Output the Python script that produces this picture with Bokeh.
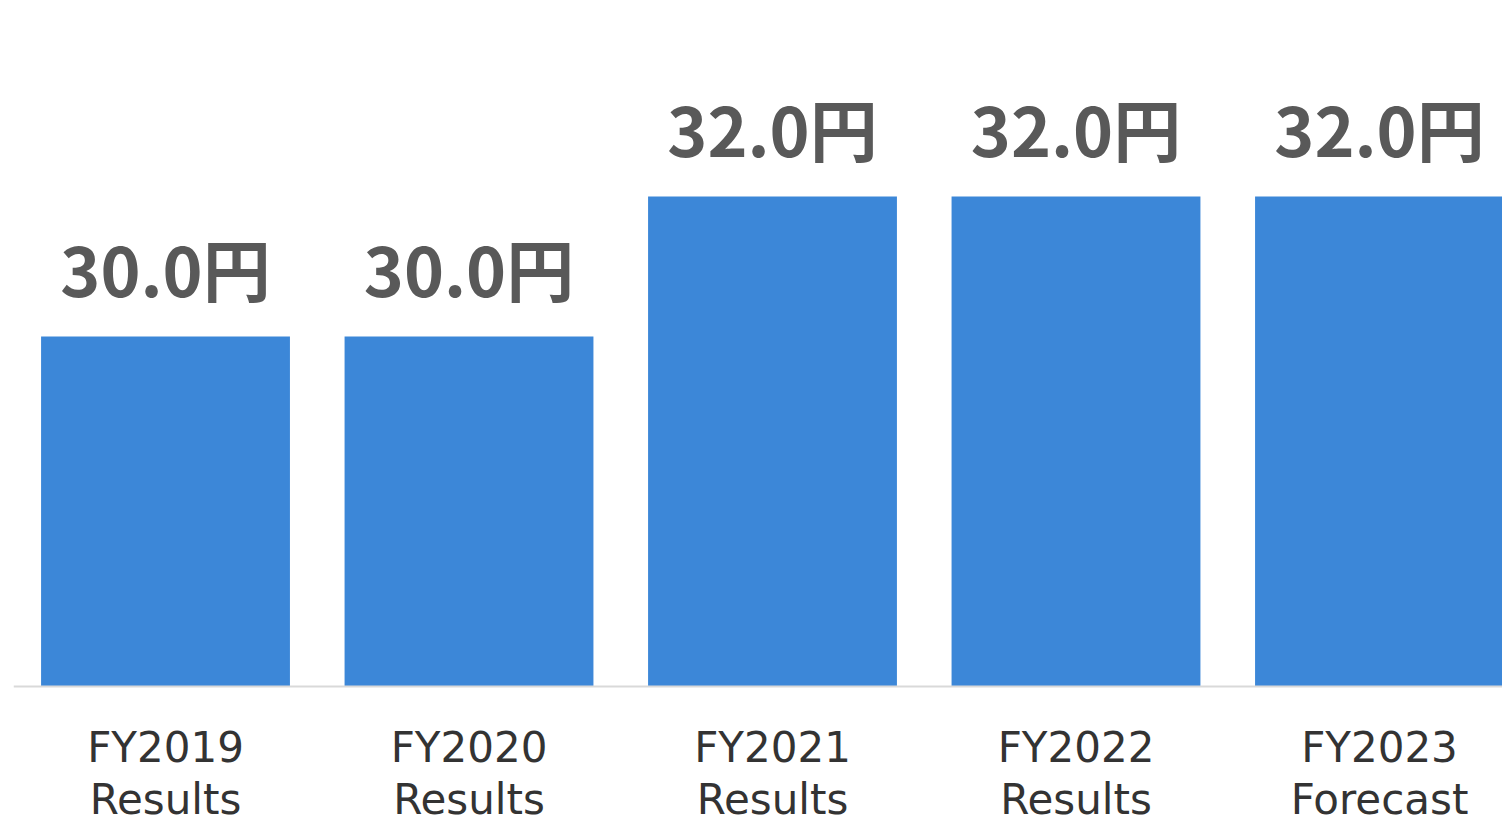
from bokeh.plotting import figure
from bokeh.models import Range1d, ColumnDataSource
from bokeh.core.properties import value
from bokeh.embed import file_html
from bokeh.resources import INLINE

categories = ["FY2019\nResults", "FY2020\nResults", "FY2021\nResults", "FY2022\nResults", "FY2023\nForecast"]
dividends = [30.0, 30.0, 32.0, 32.0, 32.0]
value_labels = ["30.0円", "30.0円", "32.0円", "32.0円", "32.0円"]

xs = list(range(len(categories)))
src = ColumnDataSource(dict(x=xs, top=dividends, cat=categories, lbl=value_labels))

BASE = 25.0
p = figure(width=1502, height=823, output_backend="svg", toolbar_location=None,
           x_range=Range1d(-0.5437, 4.4053), y_range=Range1d(23.043, 34.8),
           min_border=0, outline_line_color=None)
p.axis.visible = False
p.grid.visible = False
p.background_fill_color = "white"
p.border_fill_color = "white"

p.vbar(x="x", top="top", bottom=BASE, width=0.82, source=src,
       fill_color="#3c87d8", line_color=None)

p.segment(x0=-0.5, y0=BASE, x1=5.0, y1=BASE, line_color="#d9d9d9", line_width=2)

p.text(x="x", y="top", text="lbl", source=src, text_align="center", text_baseline="bottom",
       y_offset=-20, text_font=value("Noto Sans CJK JP"), text_font_style="bold",
       text_font_size="68px", text_color="#595959")

p.text(x="x", y=BASE, text="cat", source=src, text_align="center", text_baseline="top",
       y_offset=36, text_font=value("DejaVu Sans"), text_font_size="42px",
       text_color="#333333", text_line_height=1.08)

open("out.html", "w").write(file_html(p, INLINE))
